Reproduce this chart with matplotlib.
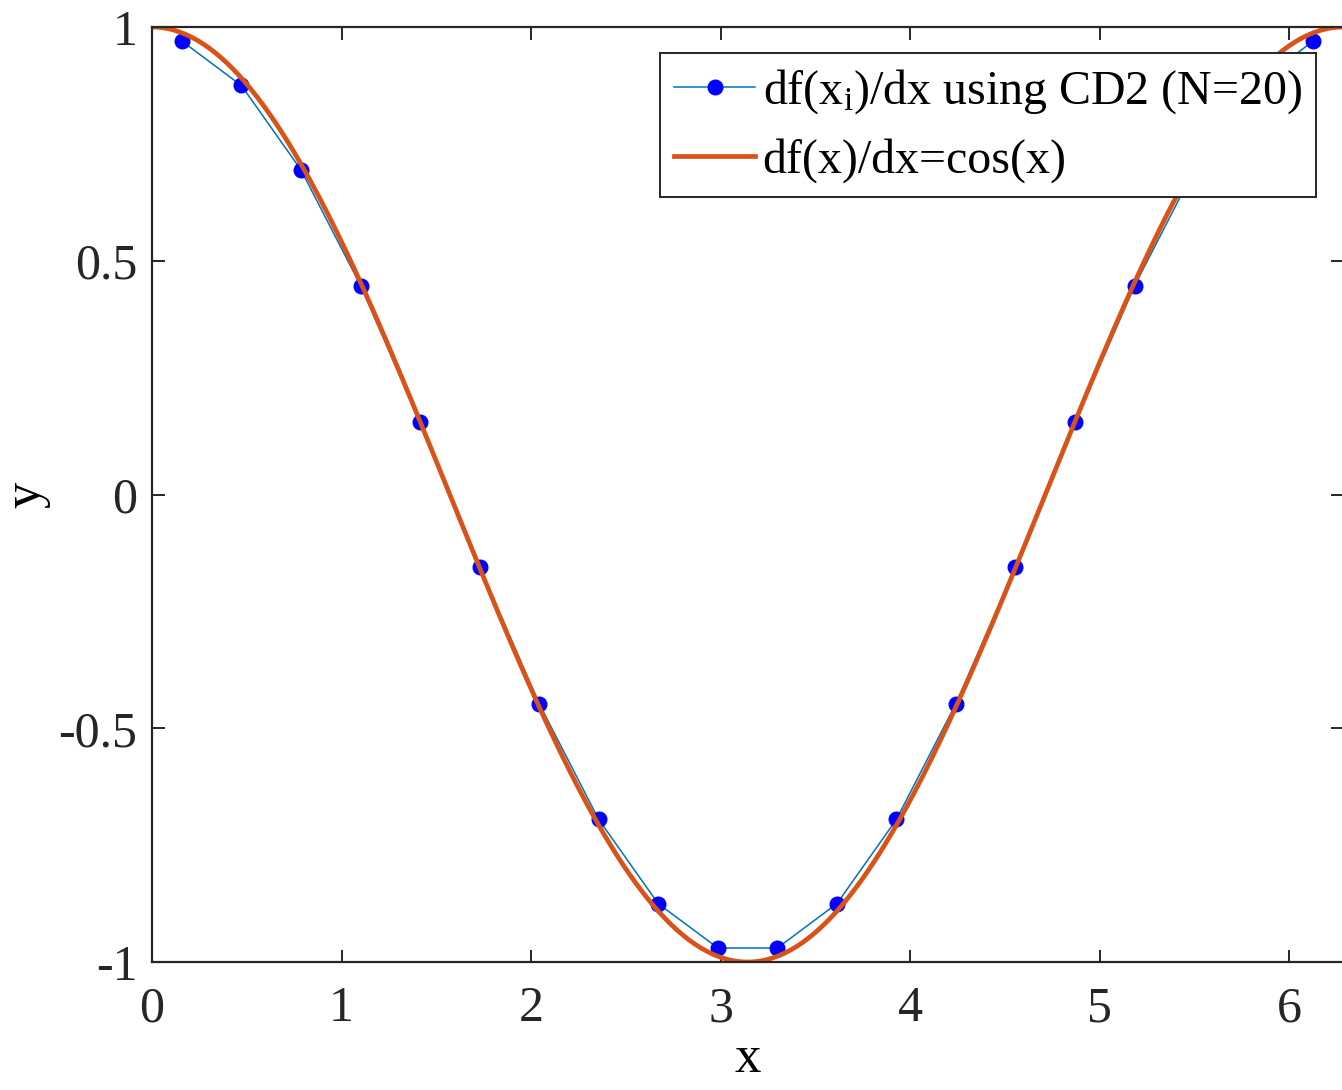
"""
plot.py
CD2 derivative estimate vs analytic derivative cos(x)
"""
import matplotlib
matplotlib.use("Agg")
import matplotlib.pyplot as plt
import numpy as np

# sample points x_i and the CD2 estimates
x_pts = [0.157, 0.471, 0.785, 1.100, 1.414, 1.728, 2.042, 2.356, 2.670, 2.985,
         3.299, 3.613, 3.927, 4.241, 4.555, 4.869, 5.184, 5.498, 5.812, 6.126]
dfdx_cd2 = [0.97, 0.875, 0.695, 0.447, 0.155, -0.155, -0.447, -0.695, -0.875, -0.97,
            -0.97, -0.875, -0.695, -0.447, -0.155, 0.155, 0.447, 0.695, 0.875, 0.97]

x_ticks = [0, 1, 2, 3, 4, 5, 6]
y_ticks = [-1, -0.5, 0, 0.5, 1]
y_tick_labels = ["-1", "-0.5", "0", "0.5", "1"]

plt.rcParams['font.family'] = ['Liberation Serif', 'DejaVu Serif']
plt.rcParams['mathtext.fontset'] = 'custom'
plt.rcParams['mathtext.rm'] = 'Liberation Serif'
plt.rcParams['mathtext.it'] = 'Liberation Serif:italic'

fig = plt.figure(figsize=(13.42, 10.90), dpi=100)
ax = fig.add_axes([0.1133, 0.1174, 0.8875, 0.8578])

# analytic derivative on a fine grid
x_fine = np.linspace(0, 2 * np.pi, 400)
ax.plot(x_pts, dfdx_cd2, '-o', color='#0072BD', lw=1.1, ms=10.5,
        mfc='#0000FF', mec='#0000FF', label=r'df(x$_\mathrm{i}$)/dx using CD2 (N=20)')
ax.plot(x_fine, np.cos(x_fine), color='#D95319', lw=3.4, label='df(x)/dx=cos(x)')

ax.set_xlim(0, 2 * np.pi)
ax.set_ylim(-1, 1)
ax.set_xticks(x_ticks)
ax.set_yticks(y_ticks)
ax.set_yticklabels(y_tick_labels)
ax.tick_params(direction='in', length=9, width=1.4, labelsize=36, colors='#262626',
               top=True, right=True)
ax.tick_params(axis='x', pad=17)
ax.tick_params(axis='y', pad=10.5)
for s in ax.spines.values():
    s.set_linewidth(1.6)
    s.set_color('#262626')
ax.set_xlabel('x', fontsize=38, labelpad=2)
ax.set_ylabel('y', fontsize=38, labelpad=6)

leg = ax.legend(loc='upper right', bbox_to_anchor=(0.9773, 0.9722), fontsize=34.5,
                fancybox=False, framealpha=1, edgecolor='#262626', handlelength=1.7,
                handletextpad=0.15, borderpad=0.3, labelspacing=0.46, borderaxespad=0)
leg.get_frame().set_linewidth(1.4)

fig.savefig('out.png', dpi=100)
